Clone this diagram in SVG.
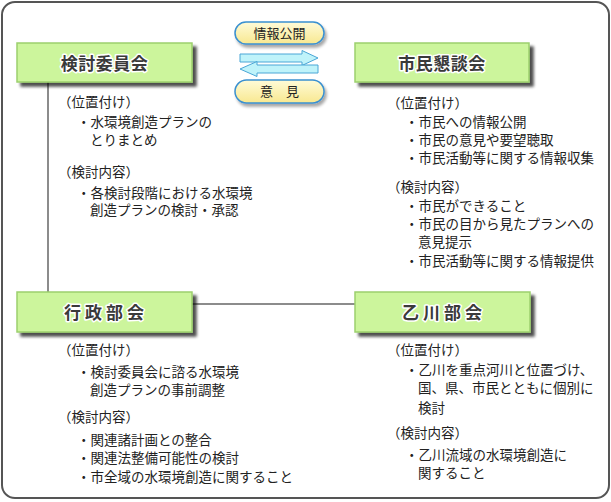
<svg xmlns="http://www.w3.org/2000/svg" width="611" height="502" viewBox="0 0 611 502">
<defs>
<filter id="sh" x="-10%" y="-20%" width="130%" height="160%">
<feGaussianBlur in="SourceAlpha" stdDeviation="1.5"/>
<feOffset dx="4" dy="4" result="o"/>
<feComponentTransfer><feFuncA type="linear" slope="0.7"/></feComponentTransfer>
<feMerge><feMergeNode/><feMergeNode in="SourceGraphic"/></feMerge>
</filter>
<filter id="sh2" x="-10%" y="-20%" width="130%" height="170%">
<feGaussianBlur in="SourceAlpha" stdDeviation="1.5"/>
<feOffset dx="2" dy="3" result="o"/>
<feComponentTransfer><feFuncA type="linear" slope="0.35"/></feComponentTransfer>
<feMerge><feMergeNode/><feMergeNode in="SourceGraphic"/></feMerge>
</filter>
<linearGradient id="pill" x1="0" y1="0" x2="0" y2="1">
<stop offset="0" stop-color="#fffbd8"/>
<stop offset="1" stop-color="#f8e890"/>
</linearGradient>
</defs>
<style>
.hdr{fill:#ccf59c;stroke:#9ccf6c;stroke-width:1.5}
.ht{font-family:"Noto Sans CJK JP",sans-serif;font-weight:bold;font-size:17px;fill:#3a3a3a;stroke:#ffffff;stroke-width:3;paint-order:stroke;stroke-linejoin:round;text-anchor:middle}
.t{font-family:"Noto Sans CJK JP",sans-serif;font-size:13.5px;fill:#222}
.pl{fill:url(#pill);stroke:#3a90d0;stroke-width:1.5}
.pt{font-family:"Noto Sans CJK JP",sans-serif;font-size:13px;fill:#222;text-anchor:middle}
.ar{fill:#bff3fa;stroke:#4aa6d6;stroke-width:1}
.ln{stroke:#666;stroke-width:1.5;fill:none}
</style>
<rect x="2" y="2" width="607" height="496" rx="13" fill="#ffffff" stroke="#555" stroke-width="2"/>
<g id="connectors">
<line class="ln" x1="48" y1="82" x2="48" y2="292"/>
<line class="ln" x1="192" y1="304" x2="355" y2="304"/>
</g>
<g id="exchange">
<g filter="url(#sh2)">
<rect class="pl" x="235" y="22" width="89" height="22" rx="11"/>
<rect class="pl" x="235" y="80" width="89" height="23" rx="11.5"/>
</g>
<text class="pt" x="279.5" y="38">情報公開</text>
<text class="pt" x="279.5" y="96">意　見</text>
<path class="ar" d="M240,54 H302 V50.5 L318,58 L302,65.5 V62 H240 Z"/>
<path class="ar" d="M240,69 L257,61.5 V65 H318 V73 H257 V76.5 Z"/>
</g>
<g id="iinkai">
<rect class="hdr" x="17" y="43" width="175" height="39" filter="url(#sh)"/>
<text class="ht" x="104.5" y="70" letter-spacing="0.5">検討委員会</text>
<text class="t" x="58" y="107">（位置付け）</text>
<text class="t" x="77" y="127">・水環境創造プランの</text>
<text class="t" x="90" y="145">とりまとめ</text>
<text class="t" x="58" y="177">（検討内容）</text>
<text class="t" x="77" y="198">・各検討段階における水環境</text>
<text class="t" x="90" y="215">創造プランの検討・承認</text>
</g>
<g id="kondankai">
<rect class="hdr" x="355" y="43" width="174" height="39" filter="url(#sh)"/>
<text class="ht" x="442" y="70" letter-spacing="0.5">市民懇談会</text>
<text class="t" x="387" y="108">（位置付け）</text>
<text class="t" x="405" y="127">・市民への情報公開</text>
<text class="t" x="405" y="145">・市民の意見や要望聴取</text>
<text class="t" x="405" y="163">・市民活動等に関する情報収集</text>
<text class="t" x="387" y="192">（検討内容）</text>
<text class="t" x="405" y="211">・市民ができること</text>
<text class="t" x="405" y="229">・市民の目から見たプランへの</text>
<text class="t" x="418" y="247">意見提示</text>
<text class="t" x="405" y="266">・市民活動等に関する情報提供</text>
</g>
<g id="gyosei">
<rect class="hdr" x="17" y="292" width="175" height="40" filter="url(#sh)"/>
<text class="ht" x="106" y="319" letter-spacing="4">行政部会</text>
<text class="t" x="58" y="355">（位置付け）</text>
<text class="t" x="77" y="377">・検討委員会に諮る水環境</text>
<text class="t" x="90" y="395">創造プランの事前調整</text>
<text class="t" x="58" y="422">（検討内容）</text>
<text class="t" x="77" y="445">・関連諸計画との整合</text>
<text class="t" x="77" y="463">・関連法整備可能性の検討</text>
<text class="t" x="77" y="482">・市全域の水環境創造に関すること</text>
</g>
<g id="otogawa">
<rect class="hdr" x="355" y="292" width="175" height="40" filter="url(#sh)"/>
<text class="ht" x="444" y="319" letter-spacing="4">乙川部会</text>
<text class="t" x="387" y="355">（位置付け）</text>
<text class="t" x="405" y="375">・乙川を重点河川と位置づけ、</text>
<text class="t" x="418" y="393">国、県、市民とともに個別に</text>
<text class="t" x="418" y="413">検討</text>
<text class="t" x="387" y="438">（検討内容）</text>
<text class="t" x="405" y="460">・乙川流域の水環境創造に</text>
<text class="t" x="418" y="478">関すること</text>
</g>
</svg>
